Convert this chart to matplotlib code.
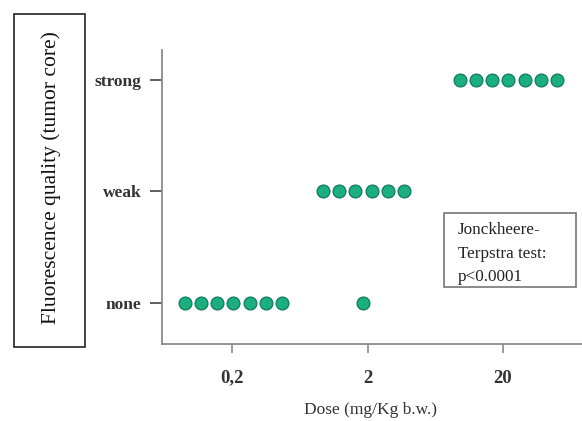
import matplotlib
matplotlib.use("Agg")
import matplotlib.pyplot as plt
from matplotlib.patches import Rectangle
import numpy as np

# ---- data ----
doses = ['0,2', '2', '20']
levels = ['none', 'weak', 'strong']
counts_none = [7, 1, 0]
counts_weak = [0, 6, 0]
counts_strong = [0, 0, 7]
annot_lines = ['Jonckheere-', 'Terpstra test:', 'p<0.0001']
ylabel = 'Fluorescence quality (tumor core)'
xlabel = 'Dose (mg/Kg b.w.)'

plt.rcParams['font.family'] = ['Liberation Serif', 'DejaVu Serif']

W, H = 582, 421
fig = plt.figure(figsize=(W / 100, H / 100), dpi=100)
ax = fig.add_axes([162 / W, 1 - 344 / H, 1 - 162 / W, (344 - 50) / H])

text_col = '#333333'
face = '#1aae80'
edge = '#0f7a58'
spacing = 0.12
group_shift = [0.01, -0.03, 0.04]

all_counts = [counts_none, counts_weak, counts_strong]
for li, cnts in enumerate(all_counts):
    for gi, n in enumerate(cnts):
        if n == 0:
            continue
        xs = gi + group_shift[gi] + (np.arange(n) - (n - 1) / 2) * spacing
        ys = np.full(n, li)
        ax.scatter(xs, ys, s=85, c=face, edgecolors=edge, linewidths=0.9, zorder=3)

ax.set_xlim(-0.5166, 2.583)
ax.set_ylim(-0.3677, 2.269)
ax.set_xticks(range(len(doses)))
ax.set_xticklabels(doses)
ax.set_yticks(range(len(levels)))
ax.set_yticklabels(levels)

for s in ['top', 'right']:
    ax.spines[s].set_visible(False)
for s in ['left', 'bottom']:
    ax.spines[s].set_color('#8a8a8a')
    ax.spines[s].set_linewidth(1.3)

ax.tick_params(axis='y', length=8.6, width=1.2, color='#444444', pad=6,
               labelsize=12.5, labelcolor=text_col)
ax.tick_params(axis='x', length=6.5, width=1.2, color='#8a8a8a', pad=12,
               labelsize=13.5, labelcolor=text_col)
for lab in ax.get_yticklabels() + ax.get_xticklabels():
    lab.set_fontweight('bold')

fig.text(370 / W, 1 - 410 / H, xlabel, ha='center', va='center',
         fontsize=12.5, color=text_col)

# y label box
fig.patches.append(Rectangle((14 / W, 1 - 347 / H), (85 - 14) / W, (347 - 14) / H,
                             transform=fig.transFigure, fill=False,
                             edgecolor='#222222', linewidth=1.2))
fig.text(51 / W, 1 - 178 / H, ylabel, rotation=90, ha='center', va='center',
         fontsize=15.5, color='#111111')

# annotation box
fig.patches.append(Rectangle((444 / W, 1 - 287 / H), (576 - 444) / W, (287 - 213) / H,
                             transform=fig.transFigure, fill=False,
                             edgecolor='#777777', linewidth=1.2, zorder=5))
for i, line in enumerate(annot_lines):
    fig.text(458 / W, 1 - (230 + i * 23.5) / H, line, ha='left', va='center',
             fontsize=12.3, color='#222222')

fig.savefig('out.png', dpi=100)
